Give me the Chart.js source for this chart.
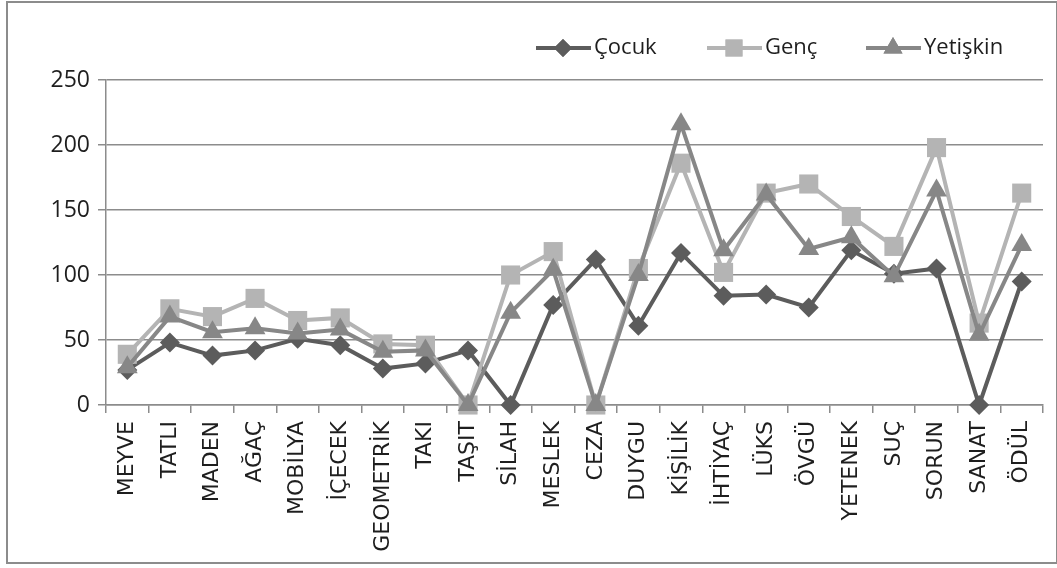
<!DOCTYPE html>
<html>
<head>
<meta charset="utf-8">
<script src="https://cdn.jsdelivr.net/npm/chart.js@4"></script>
<style>
  html, body { margin: 0; padding: 0; background: #fff; }
  #wrap { position: relative; width: 1057px; height: 568px; }
  #frame {
    position: absolute; left: 6px; top: 1px; width: 1052px; height: 563px;
    border: 2px solid #8c8c8c; box-sizing: border-box; pointer-events: none;
  }
</style>
</head>
<body>
<div id="wrap">
  <canvas id="chart" width="1057" height="568"></canvas>
  <div id="frame"></div>
</div>
<script>
const categories = [
  "MEYVE", "TATLI", "MADEN", "AĞAÇ", "MOBİLYA", "İÇECEK", "GEOMETRİK", "TAKI",
  "TAŞIT", "SİLAH", "MESLEK", "CEZA", "DUYGU", "KİŞİLİK", "İHTİYAÇ", "LÜKS",
  "ÖVGÜ", "YETENEK", "SUÇ", "SORUN", "SANAT", "ÖDÜL",
];
const cocuk = [27, 48, 38, 42, 51, 46, 28, 32, 42, 0, 77, 112, 61, 117, 84, 85, 75, 119, 101, 105, 0, 95];
const genc = [39, 74, 68, 82, 65, 67, 47, 46, 0, 100, 118, 0, 105, 186, 102, 163, 170, 145, 122, 198, 63, 163];
const yetiskin = [29, 68, 56, 59, 55, 58, 41, 42, 0, 71, 104, 0, 100, 216, 119, 162, 120, 129, 99, 165, 54, 123];
const yTicks = [0, 50, 100, 150, 200, 250];

const gridColor = "#8c8c8c";
const textColor = "#1e1e1e";

// legend drawn by hand: line with marker in the middle, like the original
const lineLegend = {
  id: "lineLegend",
  afterDraw(chart) {
    const ctx = chart.ctx;
    const items = [
      { ds: 0, x: 536, r: 9 },
      { ds: 1, x: 707, r: 12 },
      { ds: 2, x: 866, r: 11 },
    ];
    const y = 48;
    ctx.save();
    items.forEach((it) => {
      const ds = chart.data.datasets[it.ds];
      ctx.strokeStyle = ds.borderColor;
      ctx.lineWidth = 4;
      ctx.beginPath();
      ctx.moveTo(it.x, y);
      ctx.lineTo(it.x + 55, y);
      ctx.stroke();
      ctx.fillStyle = ds.borderColor;
      Chart.helpers.drawPoint(ctx, { pointStyle: ds.pointStyle, radius: it.r, borderWidth: 0 }, it.x + 27, y);
      ctx.fill();
      ctx.fillStyle = textColor;
      ctx.font = "22px 'Open Sans'";
      ctx.textBaseline = "middle";
      ctx.textAlign = "left";
      ctx.fillText(ds.label, it.x + 58, y);
    });
    ctx.restore();
  },
};

new Chart(document.getElementById("chart"), {
  type: "line",
  data: {
    labels: categories,
    datasets: [
      {
        label: "Çocuk",
        data: cocuk,
        borderColor: "#5c5c5c",
        backgroundColor: "#5c5c5c",
        pointStyle: "rectRot",
        pointRadius: 10,
        order: 2,
        clip: false,
      },
      {
        label: "Genç",
        data: genc,
        borderColor: "#b4b4b4",
        backgroundColor: "#b4b4b4",
        pointStyle: "rect",
        pointRadius: 13.5,
        order: 1,
        clip: false,
      },
      {
        label: "Yetişkin",
        data: yetiskin,
        borderColor: "#878787",
        backgroundColor: "#878787",
        pointStyle: "triangle",
        pointRadius: 12,
        order: 0,
        clip: false,
      },
    ],
  },
  options: {
    responsive: false,
    animation: false,
    devicePixelRatio: 1,
    layout: { padding: { top: 80, left: 8, right: 14, bottom: 2 } },
    elements: {
      line: { borderWidth: 4, tension: 0 },
      point: { borderWidth: 0, hoverRadius: 10 },
    },
    plugins: {
      legend: { display: false },
      tooltip: { enabled: false },
    },
    scales: {
      x: {
        offset: true,
        afterFit: (scale) => { scale.height = 161; },
        grid: {
          offset: true,
          drawOnChartArea: false,
          tickLength: 8,
          color: gridColor,
          lineWidth: 1.5,
        },
        border: { color: gridColor, width: 1.5 },
        ticks: {
          autoSkip: false,
          maxRotation: 90,
          minRotation: 90,
          padding: 8,
          color: textColor,
          font: { family: "'DejaVu Sans'", size: 22 },
        },
      },
      y: {
        min: 0,
        max: 250,
        afterFit: (scale) => { scale.width = 98; },
        afterBuildTicks: (scale) => {
          scale.ticks = yTicks.map((v) => ({ value: v }));
        },
        grid: { color: gridColor, lineWidth: 1.5, tickLength: 8 },
        border: { color: gridColor, width: 1.5 },
        ticks: {
          padding: 8,
          color: textColor,
          font: { family: "'Open Sans'", size: 23 },
        },
      },
    },
  },
  plugins: [lineLegend],
});
</script>
</body>
</html>
